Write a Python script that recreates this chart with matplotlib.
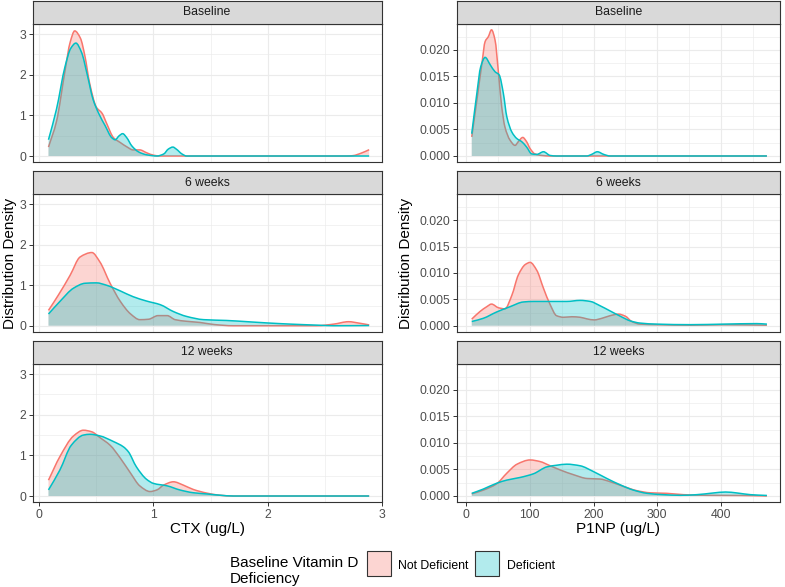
import matplotlib
matplotlib.use("Agg")
import matplotlib.pyplot as plt
from matplotlib.patches import Rectangle, PathPatch
from matplotlib.path import Path
import numpy as np

plt.rcParams['font.family'] = ['Liberation Sans', 'DejaVu Sans']

timepoints = ['Baseline', '6 weeks', '12 weeks']
groups = ['Not Deficient', 'Deficient']
colors = ['#F8766D', '#00BFC4']

# CTX (ug/L) density curves
ctx_base_nd_x = [0.08, 0.15, 0.225, 0.27, 0.31, 0.36, 0.40, 0.44, 0.50, 0.55, 0.59, 0.65, 0.71, 0.77, 0.82, 0.88, 0.94, 1.00, 1.06, 2.70, 2.75, 2.82, 2.89]
ctx_base_nd_y = [0.22, 0.85, 2.1, 2.8, 3.08, 2.9, 2.45, 1.8, 1.2, 1.05, 0.8, 0.45, 0.33, 0.22, 0.15, 0.15, 0.08, 0.02, 0.0, 0.0, 0.01, 0.07, 0.155]
ctx_base_d_x = [0.08, 0.15, 0.225, 0.275, 0.32, 0.37, 0.42, 0.47, 0.52, 0.576, 0.635, 0.664, 0.70, 0.73, 0.766, 0.81, 0.87, 0.94, 1.03, 1.09, 1.13, 1.17, 1.20, 1.25, 1.29, 2.89]
ctx_base_d_y = [0.40, 1.15, 2.2, 2.65, 2.78, 2.55, 2.0, 1.4, 1.05, 0.75, 0.45, 0.40, 0.50, 0.55, 0.45, 0.25, 0.10, 0.03, 0.0, 0.05, 0.17, 0.22, 0.17, 0.05, 0.0, 0.0]

ctx_6w_nd_x = [0.08, 0.167, 0.27, 0.357, 0.46, 0.53, 0.62, 0.71, 0.80, 0.88, 0.956, 1.04, 1.12, 1.19, 1.29, 1.41, 1.53, 1.70, 2.43, 2.58, 2.71, 2.80, 2.89]
ctx_6w_nd_y = [0.38, 0.76, 1.25, 1.7, 1.81, 1.58, 1.05, 0.6, 0.29, 0.15, 0.16, 0.25, 0.25, 0.15, 0.11, 0.08, 0.03, 0.0, 0.0, 0.04, 0.10, 0.065, 0.02]
ctx_6w_d_x = [0.08, 0.18, 0.30, 0.40, 0.50, 0.59, 0.71, 0.82, 0.94, 1.06, 1.175, 1.29, 1.44, 1.64, 1.82, 1.99, 2.2, 2.43, 2.58, 2.89]
ctx_6w_d_y = [0.29, 0.6, 0.93, 1.05, 1.06, 1.0, 0.86, 0.72, 0.61, 0.52, 0.35, 0.23, 0.15, 0.13, 0.10, 0.07, 0.04, 0.015, 0.0, 0.005]

ctx_12w_nd_x = [0.08, 0.18, 0.30, 0.386, 0.46, 0.53, 0.62, 0.71, 0.80, 0.88, 0.97, 1.03, 1.09, 1.175, 1.26, 1.35, 1.47, 1.58, 1.70, 2.89]
ctx_12w_nd_y = [0.39, 0.97, 1.48, 1.62, 1.58, 1.44, 1.25, 0.93, 0.56, 0.25, 0.11, 0.15, 0.27, 0.35, 0.27, 0.16, 0.07, 0.02, 0.0, 0.0]
ctx_12w_d_x = [0.08, 0.18, 0.28, 0.386, 0.444, 0.53, 0.65, 0.737, 0.78, 0.85, 0.94, 1.0, 1.12, 1.23, 1.35, 1.47, 1.58, 1.70, 2.89]
ctx_12w_d_y = [0.15, 0.64, 1.25, 1.5, 1.52, 1.48, 1.34, 1.21, 1.09, 0.72, 0.41, 0.31, 0.25, 0.15, 0.08, 0.05, 0.02, 0.0, 0.0]

# P1NP (ug/L) density curves
p1np_base_nd_x = [9, 17, 25, 30, 35, 40, 45.5, 51, 56, 61, 69, 77, 82, 89, 95, 100.5, 108, 119, 132, 472]
p1np_base_nd_y = [0.0036, 0.0105, 0.0175, 0.0216, 0.0225, 0.0238, 0.0219, 0.0156, 0.0093, 0.0055, 0.003, 0.002, 0.0027, 0.0035, 0.0027, 0.0014, 0.0004, 0.0001, 0.0, 0.0]
p1np_base_d_x = [9, 17, 23, 30, 38, 45.5, 52, 58.6, 64, 72, 79.6, 87.4, 95, 103, 111, 121.5, 132, 142, 189.5, 197, 206, 216, 226, 472]
p1np_base_d_y = [0.0042, 0.0118, 0.0168, 0.0186, 0.0172, 0.0159, 0.0153, 0.0118, 0.0074, 0.0045, 0.0033, 0.0027, 0.0017, 0.0004, 0.0003, 0.0008, 0.0001, 0.0, 0.0, 0.0003, 0.0008, 0.0003, 0.0, 0.0]

p1np_6w_nd_x = [9, 22, 32.5, 40, 51, 61, 72, 82, 93, 100.5, 111, 121.5, 132, 142, 153, 166, 179, 189.5, 201, 213, 226, 239, 250, 260, 273, 300, 352, 404, 472]
p1np_6w_nd_y = [0.00125, 0.0027, 0.0036, 0.0041, 0.0034, 0.0032, 0.0058, 0.0096, 0.0116, 0.012, 0.0105, 0.0071, 0.004, 0.0019, 0.0016, 0.0017, 0.0016, 0.0013, 0.0011, 0.0014, 0.0019, 0.0022, 0.0018, 0.0008, 0.0003, 0.0002, 0.0001, 0.0002, 0.0001]
p1np_6w_d_x = [9, 27, 48, 69, 90, 106, 132, 158, 179, 195, 210, 226, 242, 258, 273, 300, 352, 404, 456, 472]
p1np_6w_d_y = [0.0008, 0.0014, 0.0026, 0.0036, 0.0045, 0.0046, 0.0046, 0.0046, 0.0048, 0.0046, 0.0038, 0.0028, 0.0018, 0.0009, 0.0005, 0.0003, 0.0002, 0.0003, 0.0004, 0.0003]

p1np_12w_nd_x = [9, 27, 48, 64, 80, 100.5, 116, 132, 148, 169, 190, 210, 226, 247, 268, 289, 315, 341, 378, 430, 472]
p1np_12w_nd_y = [0.0004, 0.0011, 0.0023, 0.0043, 0.006, 0.0068, 0.0065, 0.0057, 0.0049, 0.004, 0.0033, 0.0032, 0.0027, 0.0018, 0.001, 0.0006, 0.0005, 0.00025, 0.00013, 0.0001, 0.0]
p1np_12w_d_x = [9, 27, 48, 64, 85, 106, 127, 142, 158, 179, 200, 221, 242, 263, 284, 310, 336, 362, 388, 407, 425, 446, 472]
p1np_12w_d_y = [0.0005, 0.0013, 0.0024, 0.003, 0.0035, 0.0042, 0.0055, 0.0058, 0.006, 0.0057, 0.0046, 0.0033, 0.0021, 0.0011, 0.0005, 0.00025, 0.00013, 0.00025, 0.00057, 0.00075, 0.00057, 0.00025, 0.0001]

ctx_curves = [
    [(ctx_base_nd_x, ctx_base_nd_y), (ctx_base_d_x, ctx_base_d_y)],
    [(ctx_6w_nd_x, ctx_6w_nd_y), (ctx_6w_d_x, ctx_6w_d_y)],
    [(ctx_12w_nd_x, ctx_12w_nd_y), (ctx_12w_d_x, ctx_12w_d_y)],
]
p1np_curves = [
    [(p1np_base_nd_x, p1np_base_nd_y), (p1np_base_d_x, p1np_base_d_y)],
    [(p1np_6w_nd_x, p1np_6w_nd_y), (p1np_6w_d_x, p1np_6w_d_y)],
    [(p1np_12w_nd_x, p1np_12w_nd_y), (p1np_12w_d_x, p1np_12w_d_y)],
]

W, H = 785, 587
fig = plt.figure(figsize=(W / 100, H / 100), dpi=100)


def px_axes(x0, y0, x1, y1):
    return fig.add_axes([x0 / W, 1 - y1 / H, (x1 - x0) / W, (y1 - y0) / H])


def smooth_path(xs, ys, closed):
    # monotone cubic bezier through the read points (no overshoot)
    x = np.asarray(xs, float)
    y = np.asarray(ys, float)
    h = np.diff(x)
    d = np.diff(y) / h
    m = np.zeros_like(y)
    m[0], m[-1] = d[0], d[-1]
    for i in range(1, len(y) - 1):
        if d[i - 1] * d[i] > 0:
            w1 = 2 * h[i] + h[i - 1]
            w2 = h[i] + 2 * h[i - 1]
            m[i] = (w1 + w2) / (w1 / d[i - 1] + w2 / d[i])
    verts = [(x[0], 0.0), (x[0], y[0])] if closed else [(x[0], y[0])]
    codes = [Path.MOVETO, Path.LINETO] if closed else [Path.MOVETO]
    for i in range(len(x) - 1):
        verts += [(x[i] + h[i] / 3, y[i] + m[i] * h[i] / 3),
                  (x[i + 1] - h[i] / 3, y[i + 1] - m[i + 1] * h[i] / 3),
                  (x[i + 1], y[i + 1])]
        codes += [Path.CURVE4] * 3
    if closed:
        verts += [(x[-1], 0.0), (x[0], 0.0)]
        codes += [Path.LINETO, Path.CLOSEPOLY]
    return Path(verts, codes)


# pixel layout: (strip top, panel top, panel bottom)
rows = [(0.7, 24.0, 162.3), (170.7, 194.3, 332.0), (340.7, 364.0, 502.3)]
columns = [
    dict(x0=32.5, x1=381.7, curves=ctx_curves, xlim=(-0.06, 3.0), ylim=(-0.155, 3.25),
         xmaj=[0, 1, 2, 3], xmin=[0.5, 1.5, 2.5], ymaj=[0, 1, 2, 3], ymin=[0.5, 1.5, 2.5],
         ylabels=['0', '1', '2', '3'], xlabel='CTX (ug/L)', ylab_x=10),
    dict(x0=456.7, x1=780.0, curves=p1np_curves, xlim=(-14.6, 492.5), ylim=(-0.00119, 0.0249),
         xmaj=[0, 100, 200, 300, 400], xmin=[50, 150, 250, 350, 450],
         ymaj=[0, 0.005, 0.01, 0.015, 0.02], ymin=[0.0025, 0.0075, 0.0125, 0.0175, 0.0225],
         ylabels=['0.000', '0.005', '0.010', '0.015', '0.020'], xlabel='P1NP (ug/L)', ylab_x=406),
]

for col in columns:
    for r, (st, pt, pb) in enumerate(rows):
        ax = px_axes(col['x0'], pt, col['x1'], pb)
        ax.set_xlim(*col['xlim'])
        ax.set_ylim(*col['ylim'])
        for v in col['xmin']:
            ax.axvline(v, color='#EBEBEB', lw=0.45, zorder=0)
        for v in col['ymin']:
            ax.axhline(v, color='#EBEBEB', lw=0.45, zorder=0)
        for v in col['xmaj']:
            ax.axvline(v, color='#EBEBEB', lw=0.85, zorder=0)
        for v in col['ymaj']:
            ax.axhline(v, color='#EBEBEB', lw=0.85, zorder=0)
        for (xs, ys), c in zip(col['curves'][r], colors):
            ax.add_patch(PathPatch(smooth_path(xs, ys, True), facecolor=c, alpha=0.3,
                                   edgecolor='none', zorder=2))
            ax.add_patch(PathPatch(smooth_path(xs, ys, False), facecolor='none',
                                   edgecolor=c, lw=1.1, zorder=2))
        ax.set_yticks(col['ymaj'])
        ax.set_yticklabels(col['ylabels'])
        ax.set_xticks(col['xmaj'])
        if r == 2:
            ax.set_xticklabels([str(v) for v in col['xmaj']])
            ax.tick_params(axis='x', length=2.75, width=0.7, color='#333333',
                           labelsize=8.8, labelcolor='#4D4D4D', pad=2)
        else:
            ax.tick_params(axis='x', bottom=False, labelbottom=False)
        ax.tick_params(axis='y', length=2.75, width=0.7, color='#333333',
                       labelsize=8.8, labelcolor='#4D4D4D', pad=2)
        for s in ax.spines.values():
            s.set_color('#333333')
            s.set_linewidth(0.8)
            s.set_zorder(5)

        sax = px_axes(col['x0'], st, col['x1'], pt)
        sax.set_facecolor('#D9D9D9')
        sax.set_xticks([])
        sax.set_yticks([])
        for s in sax.spines.values():
            s.set_color('#333333')
            s.set_linewidth(0.8)
        sax.text(0.5, 0.5, timepoints[r], ha='center', va='center',
                 fontsize=8.8, color='#1A1A1A', transform=sax.transAxes)

    xc = (col['x0'] + col['x1']) / 2
    fig.text(xc / W, 1 - 533 / H, col['xlabel'], ha='center', va='baseline', fontsize=11, color='black')
    fig.text(col['ylab_x'] / W, 1 - 263 / H, 'Distribution Density', ha='center', va='center',
             rotation=90, fontsize=11, color='black')

# legend
fig.text(230 / W, 1 - 571 / H, 'Baseline Vitamin D\nDeficiency', ha='left', va='center',
         fontsize=11, color='black', linespacing=1.15)
key_x = [367, 475]
label_x = [398, 507]
for g, c, kx, lx in zip(groups, colors, key_x, label_x):
    fig.patches.append(Rectangle((kx / W, 1 - 576 / H), 24 / W, 25 / H, transform=fig.transFigure,
                                 facecolor=c, alpha=0.3, edgecolor='none'))
    fig.patches.append(Rectangle((kx / W, 1 - 576 / H), 24 / W, 25 / H, transform=fig.transFigure,
                                 facecolor='none', edgecolor='#333333', lw=0.8))
    fig.text(lx / W, 1 - 566 / H, g, ha='left', va='center', fontsize=8.8, color='black')

fig.savefig('out.png', dpi=100)
